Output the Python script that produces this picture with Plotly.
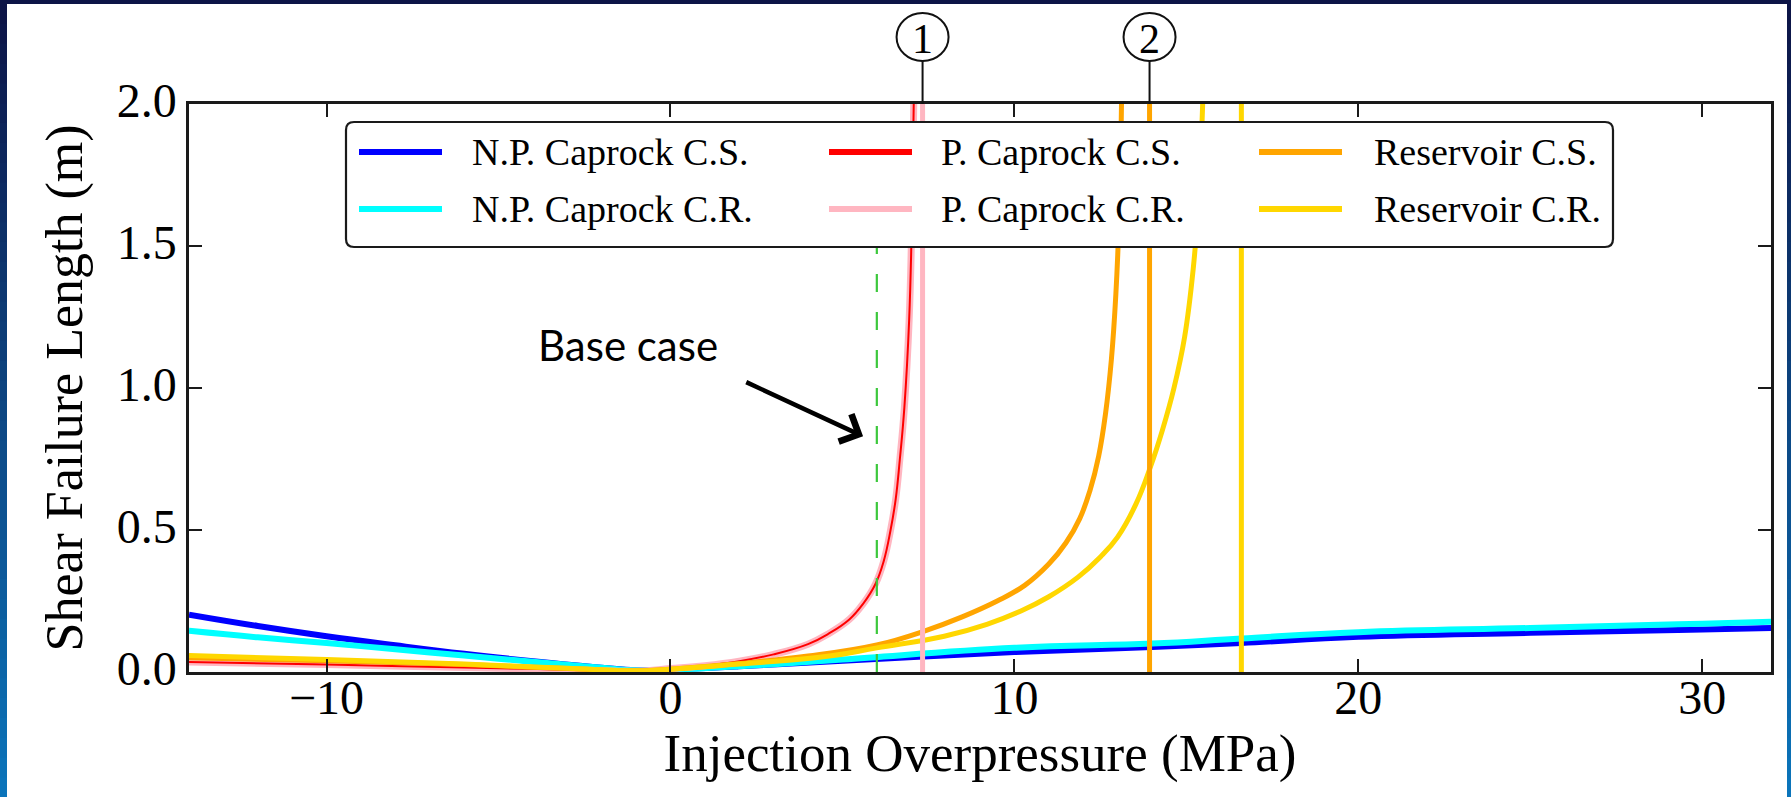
import plotly.graph_objects as go

# ---------------- data ----------------
# Injection overpressure (MPa) and shear failure length (m) per case
np_x = [-14, -12, -10, -8, -6, -4, -2, -1, 0, 2, 5, 10, 14, 16.6, 20, 25, 30, 32]
np_cs = [0.202, 0.162, 0.126, 0.094, 0.064, 0.038, 0.015, 0.006, 0.009, 0.020, 0.040,
         0.070, 0.088, 0.102, 0.124, 0.138, 0.150, 0.155]
np_cr = [0.145, 0.122, 0.102, 0.080, 0.058, 0.036, 0.015, 0.006, 0.008, 0.020, 0.044,
         0.085, 0.100, 0.118, 0.140, 0.155, 0.170, 0.177]

p_x = [-14, -10, -6, -3, -1, 0, 1, 2, 3, 4, 4.6, 5.2, 5.6, 5.96, 6.2, 6.4, 6.55,
       6.67, 6.8, 6.94, 7.02, 7.08]
p_cs = [0.035, 0.026, 0.016, 0.008, 0.003, 0.012, 0.022, 0.038, 0.062, 0.098, 0.135,
        0.185, 0.240, 0.310, 0.390, 0.500, 0.610, 0.750, 0.930, 1.240, 1.600, 2.050]
p_cr = [0.035, 0.026, 0.016, 0.008, 0.003, 0.012, 0.022, 0.038, 0.062, 0.098, 0.135,
        0.185, 0.240, 0.310, 0.390, 0.500, 0.610, 0.750, 0.930, 1.240, 1.600, 2.050]

res_cs_x = [-14, -10, -6, -3, -1, 0, 2, 4, 6, 7.4, 8.5, 9.5, 10.3, 11.0, 11.5, 11.9,
            12.2, 12.45, 12.65, 12.82, 12.95, 13.05, 13.12]
res_cs = [0.050, 0.040, 0.026, 0.012, 0.004, 0.010, 0.030, 0.056, 0.095, 0.145, 0.195,
          0.250, 0.305, 0.380, 0.455, 0.540, 0.640, 0.760, 0.910, 1.100, 1.330, 1.620,
          2.050]

res_cr_x = [-14, -10, -6, -3, -1, 0, 2, 4.62, 6, 7.96, 9.2, 10.19, 11.0, 11.86, 12.5,
            13.0, 13.53, 13.95, 14.3, 14.64, 14.95, 15.2, 15.35, 15.48]
res_cr = [0.058, 0.044, 0.028, 0.013, 0.004, 0.010, 0.028, 0.056, 0.085, 0.126, 0.168,
          0.215, 0.265, 0.335, 0.405, 0.475, 0.590, 0.720, 0.850, 1.000, 1.180, 1.420,
          1.650, 2.020]

# critical overpressures (vertical markers)
crit_p_caprock_cr = 7.33
crit_res_cs = 13.93
crit_res_cr = 16.6
base_case = 6.0

series_names = ["N.P. Caprock C.S.", "N.P. Caprock C.R.", "P. Caprock C.S.",
                "P. Caprock C.R.", "Reservoir C.S.", "Reservoir C.R."]
series_colors = ["#0000ff", "#00ffff", "#ff0000", "#ffb6c1", "#ffa500", "#ffd700"]

x_ticks = [-10, 0, 10, 20, 30]
x_ticktext = ["\u221210", "0", "10", "20", "30"]
y_ticks = [0.0, 0.5, 1.0, 1.5, 2.0]
y_ticktext = ["0.0", "0.5", "1.0", "1.5", "2.0"]

# ---------------- layout geometry (px) ----------------
W, H = 1791, 797
ML, MR, MT, MB = 189, 20, 104, 125
PW, PH = W - ML - MR, H - MT - MB


def px_x(px):
    return (px - ML) / PW


def px_y(py):
    return (H - MB - py) / PH


SERIF = "Liberation Serif, Times New Roman, serif"

fig = go.Figure()

curves = [
    (np_x, np_cs, 6), (np_x, np_cr, 6),
    (p_x, p_cs, 2), (p_x, p_cr, 7),
    (res_cs_x, res_cs, 5), (res_cr_x, res_cr, 5),
]
draw_order = [0, 1, 3, 2, 4, 5]
for i in draw_order:
    xs, ys, w = curves[i]
    fig.add_trace(go.Scatter(
        x=xs, y=ys, mode="lines", name=series_names[i],
        line=dict(color=series_colors[i], width=w, shape="spline", smoothing=1.2),
        showlegend=False, hoverinfo="skip"))

# base case marker
fig.add_trace(go.Scatter(
    x=[base_case, base_case], y=[0, 2], mode="lines",
    line=dict(color="#3cc83c", width=2.2, dash="18px,20px"),
    showlegend=False, hoverinfo="skip"))

# critical overpressure lines
for xv, col in [(crit_p_caprock_cr, series_colors[3]),
                (crit_res_cs, series_colors[4]),
                (crit_res_cr, series_colors[5])]:
    fig.add_trace(go.Scatter(
        x=[xv, xv], y=[0, 2], mode="lines",
        line=dict(color=col, width=5),
        showlegend=False, hoverinfo="skip"))

shapes = []
annotations = []

# slide background: white panel with gradient side strips
shapes.append(dict(type="rect", xref="paper", yref="paper", layer="below",
                   x0=px_x(7), x1=px_x(1787), y0=px_y(H + 10), y1=px_y(4),
                   fillcolor="white", line=dict(width=0)))


def lerp_col(c0, c1, t):
    a = [int(c0[i:i + 2], 16) for i in (1, 3, 5)]
    b = [int(c1[i:i + 2], 16) for i in (1, 3, 5)]
    return "#" + "".join(f"{round(a[k] + (b[k] - a[k]) * t):02x}" for k in range(3))


n_steps = 40
for k in range(n_steps):
    t = k / (n_steps - 1)
    col = lerp_col("#0d1547", "#0b74ba", t)
    ya, yb = 4 + (H - 4) * k / n_steps, 4 + (H - 4) * (k + 1) / n_steps + 1
    for xa, xb in [(-2, 7), (1787, W + 2)]:
        shapes.append(dict(type="rect", xref="paper", yref="paper", layer="below",
                           x0=px_x(xa), x1=px_x(xb), y0=px_y(yb), y1=px_y(ya),
                           fillcolor=col, line=dict(width=0)))

# legend box (rounded)
lx0, lx1, ly0, ly1 = px_x(346), px_x(1613), px_y(247), px_y(122)
rx, ry = 8 / PW, 8 / PH
path = (f"M {lx0 + rx},{ly0} L {lx1 - rx},{ly0} Q {lx1},{ly0} {lx1},{ly0 + ry} "
        f"L {lx1},{ly1 - ry} Q {lx1},{ly1} {lx1 - rx},{ly1} L {lx0 + rx},{ly1} "
        f"Q {lx0},{ly1} {lx0},{ly1 - ry} L {lx0},{ly0 + ry} Q {lx0},{ly0} {lx0 + rx},{ly0} Z")
shapes.append(dict(type="path", path=path, xref="paper", yref="paper", layer="above",
                   fillcolor="white", line=dict(color="#1a1a1a", width=2.2)))

col_sample_x = [(359, 442, 470), (829, 912, 939), (1259, 1342, 1372)]
row_y = [152, 209]
for i, name in enumerate(series_names):
    c, r = i // 2, i % 2
    sx0, sx1, tx = col_sample_x[c]
    shapes.append(dict(type="line", xref="paper", yref="paper", layer="above",
                       x0=px_x(sx0), x1=px_x(sx1), y0=px_y(row_y[r]), y1=px_y(row_y[r]),
                       line=dict(color=series_colors[i], width=6)))
    annotations.append(dict(x=px_x(tx), y=px_y(row_y[r]), xref="paper", yref="paper",
                            text=name, showarrow=False, xanchor="left", yanchor="middle",
                            font=dict(family=SERIF, size=38, color="black")))

# numbered callouts above the critical lines
for xv, label in [(crit_p_caprock_cr, "1"), (crit_res_cs, "2")]:
    shapes.append(dict(type="line", xref="x", yref="paper", x0=xv, x1=xv,
                       y0=1.0, y1=px_y(61), line=dict(color="#111111", width=2)))
    shapes.append(dict(type="circle", xref="x", yref="paper", xsizemode="pixel",
                       ysizemode="pixel", xanchor=xv, yanchor=px_y(37),
                       x0=-26, x1=26, y0=-24, y1=24,
                       fillcolor="white", line=dict(color="#111111", width=2)))
    annotations.append(dict(x=xv, y=px_y(39), xref="x", yref="paper", text=label,
                            showarrow=False, xanchor="center", yanchor="middle",
                            font=dict(family=SERIF, size=42, color="black")))

# base case label and arrow
annotations.append(dict(x=-1.23, y=1.15, xref="x", yref="y", text="Base case",
                        showarrow=False, xanchor="center", yanchor="middle",
                        font=dict(family="Lato, Open Sans, sans-serif", size=42,
                                  color="black")))
annotations.append(dict(x=5.6, y=0.83, ax=2.16, ay=1.023, xref="x", yref="y",
                        axref="x", ayref="y", text="", showarrow=True,
                        arrowhead=4, arrowsize=1.3, arrowwidth=4.5,
                        arrowcolor="black", standoff=0))

fig.update_layout(
    width=W, height=H,
    margin=dict(l=ML, r=MR, t=MT, b=MB, autoexpand=False),
    paper_bgcolor="#0d1547", plot_bgcolor="white",
    shapes=shapes, annotations=annotations,
    showlegend=False,
    font=dict(family=SERIF, color="black"),
)

axis_common = dict(
    showgrid=False, zeroline=False, showline=True, linewidth=2.5,
    linecolor="#1a1a1a", mirror="ticks", ticks="inside", ticklen=13,
    tickwidth=1.5, tickcolor="#1a1a1a",
    tickfont=dict(family=SERIF, size=48, color="black"),
)
fig.update_xaxes(range=[-14, 32], tickvals=x_ticks, ticktext=x_ticktext,
                 ticklabelstandoff=-18,
                 title=dict(text="Injection Overpressure (MPa)", standoff=8,
                            font=dict(family=SERIF, size=53, color="black")),
                 **axis_common)
fig.update_yaxes(range=[0, 2], tickvals=y_ticks, ticktext=y_ticktext,
                 ticklabelshift=-4,
                 title=dict(text="Shear Failure Length (m)", standoff=18,
                            font=dict(family=SERIF, size=52, color="black")),
                 **axis_common)

fig.write_html("out.html")
